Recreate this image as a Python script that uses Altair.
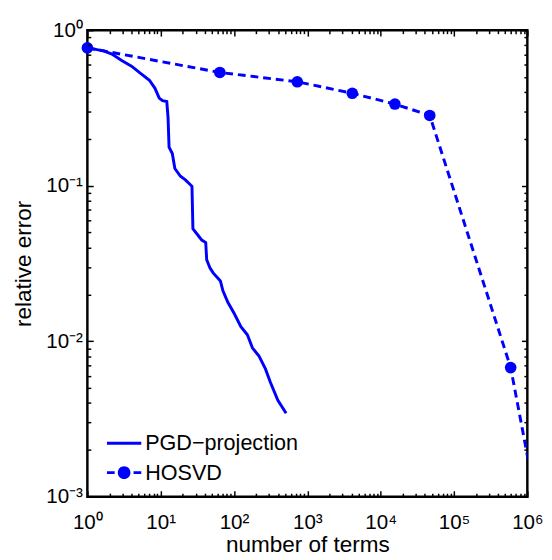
import altair as alt
import pandas as pd

# ---- data ----
pgd_terms = [1, 1.67, 2.16, 2.94, 4.0, 5.16, 7.02, 8.36, 9.55, 10.6, 12.1, 12.6, 13.0,
             14.4, 15.6, 18.6, 21.7, 26.7, 27.5, 31.1, 36.3, 41.1, 42.4, 46.9, 51.9,
             65.2, 70.6, 82.4, 101, 124, 152, 178, 219, 269, 313, 396, 513]
pgd_error = [0.77, 0.737, 0.703, 0.638, 0.587, 0.533, 0.477, 0.423, 0.366, 0.352, 0.348,
             0.274, 0.177, 0.161, 0.129, 0.115, 0.109, 0.0991, 0.0528, 0.0491, 0.0447,
             0.0431, 0.0334, 0.0296, 0.0275, 0.0244, 0.0211, 0.0178, 0.0150, 0.0124,
             0.0110, 0.00906, 0.00801, 0.00661, 0.00544, 0.00417, 0.00344]

hosvd_terms = [1, 64, 729, 4096, 15625, 46656, 592704, 1200000]
hosvd_error = [0.77, 0.535, 0.466, 0.393, 0.335, 0.283, 0.00676, 0.00117]

series_names = ["PGD\u2212projection", "HOSVD"]

x_major = [1, 10, 100, 1000, 10000, 100000, 1000000]
x_labels = ["10\u2070", "10\u00b9", "10\u00b2", "10\u00b3", "10\u2074", "10\u2075", "10\u2076"]
y_major = [0.001, 0.01, 0.1, 1]
y_labels = ["10\u207b\u00b3", "10\u207b\u00b2", "10\u207b\u00b9", "10\u2070"]
x_minor = [m * 10 ** k for k in range(0, 6) for m in range(2, 10)]
y_minor = [m * 10.0 ** k for k in range(-3, 0) for m in range(2, 10)]

BLUE = "#0000ff"
FONT = "Liberation Sans"

pgd_df = pd.DataFrame({"terms": pgd_terms, "error": pgd_error, "series": series_names[0]})
hosvd_df = pd.DataFrame({"terms": hosvd_terms, "error": hosvd_error, "series": series_names[1]})

xs = alt.Scale(type="log", domain=[1, 1000000], nice=False)
ys = alt.Scale(type="log", domain=[0.001, 1], nice=False)

x_expr = "[" + ",".join("'%s'" % s for s in x_labels) + "][round(log(datum.value)/LN10)]"
y_expr = "[" + ",".join("'%s'" % s for s in y_labels) + "][round(log(datum.value)/LN10)+3]"

MAJ = 6
MIN = 3.5


def axis(orient, values, size, title=None, expr=None, lpad=3, tpad=4):
    # inward ticks: the axis is shifted into the plot by its own tick length
    kw = dict(orient=orient, values=values, tickSize=size, offset=-size, domain=False,
              grid=False, ticks=True, tickColor="#000000", tickWidth=1.5, tickOpacity=1,
              zindex=2, title=title)
    if expr is not None:
        kw.update(labels=True, labelExpr=expr, labelFont=FONT, labelFontSize=21,
                  labelColor="black", labelPadding=lpad, labelFlush=False, labelOverlap=False,
                  titleFont=FONT, titleFontSize=23, titleFontWeight="normal",
                  titleColor="black", titlePadding=tpad)
    else:
        kw.update(labels=False)
    return alt.Axis(**kw)


pgd_line = alt.Chart(pgd_df).mark_line(color=BLUE, strokeWidth=3, clip=True).encode(
    x=alt.X("terms:Q", scale=xs,
            axis=axis("bottom", x_major, MAJ, "number of terms", x_expr, lpad=15, tpad=2)),
    y=alt.Y("error:Q", scale=ys,
            axis=axis("left", y_major, MAJ, "relative error", y_expr, lpad=5, tpad=11)),
    order="terms:Q",
)

hosvd_line = alt.Chart(hosvd_df).mark_line(color=BLUE, strokeWidth=3, strokeDash=[8, 5],
                                            clip=True).encode(
    x=alt.X("terms:Q", scale=xs, axis=axis("bottom", x_minor, MIN)),
    y=alt.Y("error:Q", scale=ys, axis=axis("left", y_minor, MIN)),
    order="terms:Q",
)

hosvd_pts = alt.Chart(hosvd_df).mark_point(filled=True, color=BLUE, size=140, opacity=1,
                                           strokeWidth=1).encode(
    x=alt.X("terms:Q", scale=xs, axis=axis("top", x_major, MAJ)),
    y=alt.Y("error:Q", scale=ys, axis=axis("right", y_major, MAJ)),
).transform_filter("datum.terms <= 1000000")

# legend glyphs drawn as filled shapes (line = thin bar, HOSVD = two dashes + dot)
legend_shapes = [
    "M-1,-0.086H1V0.086H-1Z",
    "M-1,-0.086H-0.55V0.086H-1Z"
    "M0.55,-0.086H1V0.086H0.55Z"
    "M-0.37,0A0.37,0.37,0,1,1,0.37,0A0.37,0.37,0,1,1,-0.37,0Z",
]

legend_layer = alt.Chart(pd.concat([pgd_df, hosvd_df])).mark_point(
    filled=True, color=BLUE, opacity=1
).encode(
    x=alt.X("terms:Q", scale=xs, axis=axis("top", x_minor, MIN)),
    y=alt.Y("error:Q", scale=ys, axis=axis("right", y_minor, MIN)),
    shape=alt.Shape("series:N",
                    scale=alt.Scale(domain=series_names, range=legend_shapes),
                    legend=alt.Legend(title=None, orient="none", legendX=20, legendY=404,
                                      symbolSize=1225, symbolStrokeWidth=0,
                                      symbolFillColor=BLUE, symbolOpacity=1,
                                      labelFont=FONT, labelFontSize=22, labelColor="black",
                                      labelOffset=4, rowPadding=1, padding=0)),
).transform_filter("false")

chart = alt.layer(pgd_line, hosvd_line, hosvd_pts, legend_layer).resolve_axis(
    x="independent", y="independent"
).properties(
    width=449, height=476,
    padding={"left": 4, "top": 6, "right": 0, "bottom": 0},
).configure(
    background="white",
    view=alt.ViewConfig(stroke="#000000", strokeWidth=2.5, strokeOpacity=1),
)

chart.save("out.html", embed_options={"renderer": "svg", "actions": False})
